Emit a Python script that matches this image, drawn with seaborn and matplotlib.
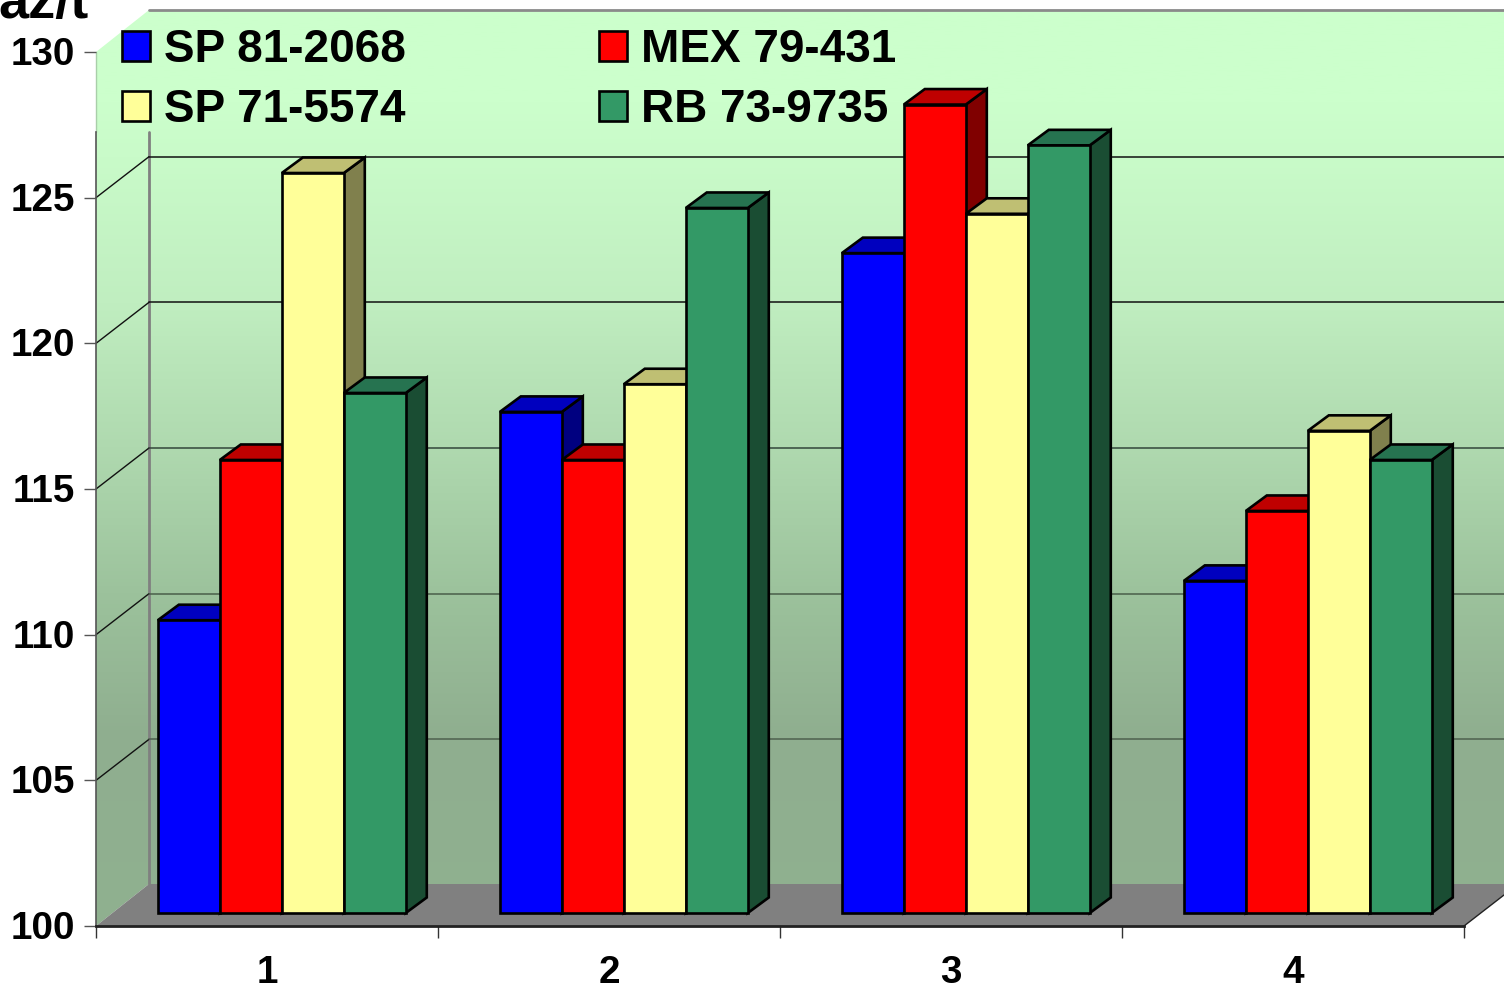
import numpy as np
import pandas as pd
import matplotlib
matplotlib.use("Agg")
import matplotlib.pyplot as plt
from matplotlib.colors import LinearSegmentedColormap
from matplotlib.patches import Polygon, Patch
from matplotlib.transforms import ScaledTranslation
import seaborn as sns

categories = ["1", "2", "3", "4"]
series_names = ["SP 81-2068", "MEX 79-431", "SP 71-5574", "RB 73-9735"]
sp81 = [110.05, 117.2, 122.65, 111.4]
mex79 = [115.55, 115.55, 127.75, 113.8]
sp71 = [125.4, 118.15, 124.0, 116.55]
rb73 = [117.85, 124.2, 126.35, 115.55]
y_ticks = [100, 105, 110, 115, 120, 125, 130]
y_title = "az/t"

front_colors = ["#0000FF", "#FF0000", "#FFFF99", "#339966"]
top_colors = ["#0000BF", "#BF0000", "#BFBF73", "#267350"]
side_colors = ["#000080", "#800000", "#80804D", "#1A4D33"]
grid_colors = {105: "#4F604F", 110: "#4A5E4A", 115: "#33463A", 120: "#111111", 125: "#111111"}

W, H = 1504, 989
EDGE = 1.9
sns.set_theme(style="white")
plt.rcParams["font.family"] = ["Liberation Sans", "DejaVu Sans"]
plt.rcParams["font.weight"] = "bold"

fig = plt.figure(figsize=(W / 100, H / 100), dpi=100, facecolor="white")


def rect(l, t, r, b):
    return [l / W, 1 - b / H, (r - l) / W, (b - t) / H]


# scenery axes in pixel space
bg = fig.add_axes([0, 0, 1, 1], zorder=0)
bg.set_xlim(0, W)
bg.set_ylim(H, 0)
bg.set_axis_off()
stops = [(10, "#CCFFCC"), (100, "#CCFFCC"), (156, "#C9FBC9"), (302, "#C0EEC0"), (448, "#AFD9AF"),
         (594, "#9CC29C"), (739, "#8FAE8F"), (926, "#90B190")]
cmap = LinearSegmentedColormap.from_list("wall", [((y - 10) / 916, c) for y, c in stops])
grad = np.linspace(0, 1, 512).reshape(-1, 1)
im = bg.imshow(grad, cmap=cmap, extent=[0, W, 926, 10], aspect="auto", zorder=1)
wall = Polygon([(96, 926), (96, 52), (149, 10), (W, 10), (W, 884), (149, 884)],
               transform=bg.transData, facecolor="none", edgecolor="none")
bg.add_patch(wall)
im.set_clip_path(wall)
bg.set_xlim(0, W)
bg.set_ylim(H, 0)
bg.add_patch(Polygon([(96, 926), (149, 884), (W, 884), (W, 895), (1464, 926)],
                     facecolor="#808080", edgecolor="none", zorder=2))
bg.plot([149, W], [10, 10], color="#8A8A8A", lw=2, zorder=3)
bg.plot([149, 149], [132, 884], color="#808080", lw=2, zorder=3)
bg.plot([1464, W], [926, 895], color="#222222", lw=1, zorder=3)
bg.plot([96, 96], [52, 132], color="#A9CFA9", lw=1, zorder=3)
for v in y_ticks[1:-1]:
    py = 926 - (v - 100) * 874 / 30
    c = grid_colors[v]
    bg.plot([96, 149], [py, py - 41], color="#111111", lw=1, zorder=3)
    bg.plot([149, W], [py - 41, py - 41], color=c, lw=1.1, zorder=3)

# front plane axes: carries the value and category axes
ax = fig.add_axes(rect(96, 52, 1464, 926), zorder=1)
ax.patch.set_alpha(0)
ax.set_xlim(-0.5, 3.5)
ax.set_ylim(100, 130)
ax.set_yticks(y_ticks)
ax.set_yticklabels([str(v) for v in y_ticks], fontsize=27.8, fontweight="bold", color="black")
ax.set_xticks(np.arange(-0.5, 4, 1))
ax.set_xticklabels([])
ax.set_xticks(range(len(categories)), minor=True)
ax.set_xticklabels(categories, minor=True, fontsize=27.8, fontweight="bold", color="black")
ax.tick_params(axis="y", which="major", left=True, length=8.6, width=1, color="#555555", pad=6.5)
ax.tick_params(axis="x", which="major", bottom=True, length=8.6, width=1, color="#333333")
ax.tick_params(axis="x", which="minor", bottom=False, length=0, pad=21)
nudge = ScaledTranslation(0, 1 / 100, fig.dpi_scale_trans)
for lab in ax.get_yticklabels():
    lab.set_transform(lab.get_transform() + nudge)
for s in ("top", "right"):
    ax.spines[s].set_visible(False)
ax.spines["left"].set_color("#555555")
ax.spines["left"].set_linewidth(1.2)
ax.spines["left"].set_bounds(100, 100 + (926 - 132) * 30 / 874)
ax.spines["bottom"].set_color("#222222")
ax.spines["bottom"].set_linewidth(2)
ax.grid(False)

# bar plane, pushed into the depth of the chart
bx = fig.add_axes(rect(96 + 14.8, 52 - 13, 1464 + 14.8, 926 - 13), zorder=2)
df = pd.DataFrame({
    "cat": categories * 4,
    "series": np.repeat(series_names, 4),
    "value": sp81 + mex79 + sp71 + rb73,
})
sns.barplot(data=df, x="cat", y="value", hue="series", hue_order=series_names,
            palette=front_colors, width=0.725, gap=0, saturation=1, ax=bx, legend=False,
            edgecolor="black", linewidth=EDGE)
bx.set_xlim(-0.5, 3.5)
bx.set_ylim(100, 130)
bx.set_axis_off()
bx.patch.set_alpha(0)

dx = 21 / (1368 / 4)
dy = 15.5 / (874 / 30)
for i, cont in enumerate(bx.containers):
    for patch in cont:
        x0 = patch.get_x()
        w = patch.get_width()
        top = patch.get_height()
        patch.set_y(100)
        patch.set_height(top - 100)
        patch.set_clip_on(False)
        patch.set_zorder(10 + 2 * i)
        x1 = x0 + w
        kw = dict(edgecolor="black", linewidth=EDGE, clip_on=False, zorder=9 + 2 * i, joinstyle="miter")
        bx.add_patch(Polygon([(x1, 100), (x1 + dx, 100 + dy), (x1 + dx, top + dy), (x1, top)],
                             facecolor=side_colors[i], **kw))
        bx.add_patch(Polygon([(x0, top), (x0 + dx, top + dy), (x1 + dx, top + dy), (x1, top)],
                             facecolor=top_colors[i], **kw))

order = [0, 2, 1, 3]
handles = [Patch(facecolor=front_colors[i], edgecolor="black", linewidth=EDGE, label=series_names[i])
           for i in order]
leg = bx.legend(handles=handles, ncol=2, loc="upper left",
                bbox_to_anchor=(122 / W, 1 - 28 / H), bbox_transform=fig.transFigure,
                frameon=False, borderpad=0, borderaxespad=0,
                handlelength=0.62, handleheight=0.62, handletextpad=0.29,
                columnspacing=4.22, labelspacing=0.35,
                prop={"family": "Liberation Sans", "weight": "bold", "size": 33})
for t in leg.get_texts():
    t.set_color("black")

fig.text(-2 / W, 1 - 18 / H, y_title, fontsize=39, fontweight="bold", color="black",
         ha="left", va="baseline")

fig.savefig("out.png", dpi=100)
